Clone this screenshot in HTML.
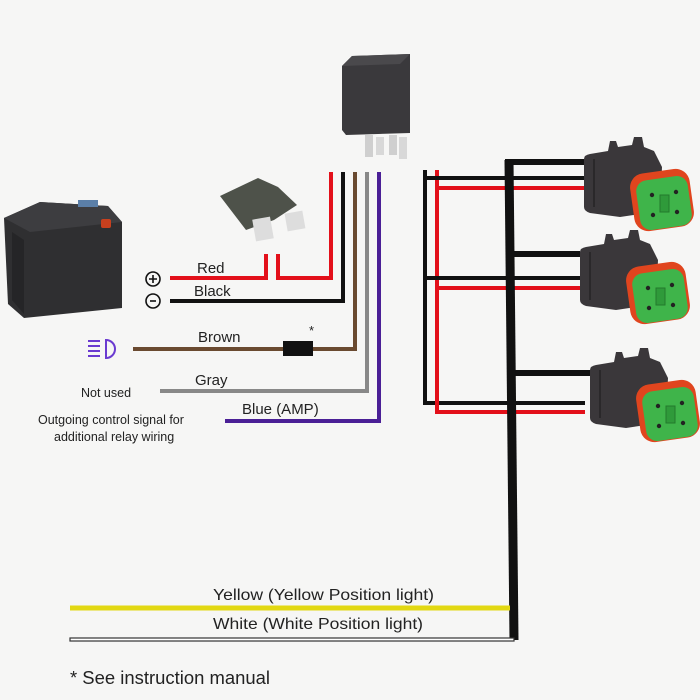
<!DOCTYPE html>
<html><head><meta charset="utf-8"><style>
html,body{margin:0;padding:0;background:#f6f6f5;}
svg{display:block}
text{font-family:"Liberation Sans",sans-serif;fill:#222;}
</style></head><body>
<svg width="700" height="700" viewBox="0 0 700 700" xmlns="http://www.w3.org/2000/svg">
<defs>
<g id="conn">
  <path d="M4 22 Q4 18 10 17 L28 14 L30 4 L36 4 L38 10 L52 8 L54 0 L62 0 L64 10 L74 14 L82 30 L80 74 L40 80 L10 76 Q4 74 4 70 Z" fill="#3a373a"/>
  <path d="M14 22 L14 70" stroke="#2a282a" stroke-width="2"/>
  <rect x="52" y="34" width="60" height="58" rx="14" fill="#e0451e" transform="rotate(-8 82 63)"/>
  <rect x="58" y="41" width="52" height="50" rx="11" fill="#3fb44a" transform="rotate(-8 84 66)"/>
  <circle cx="72" cy="58" r="2.2" fill="#222"/><circle cx="96" cy="55" r="2.2" fill="#222"/>
  <circle cx="73" cy="78" r="2.2" fill="#222"/><circle cx="97" cy="75" r="2.2" fill="#222"/>
  <rect x="80" y="58" width="9" height="17" fill="#2f9a3a" stroke="#237a2c" stroke-width="1"/>
</g>
</defs>

<!-- battery -->
<path d="M4 218 L40 202 L108 206 L122 222 L122 308 L24 318 L8 304 Z" fill="#2f2f31"/>
<path d="M4 218 L40 202 L108 206 L122 222 L30 232 Z" fill="#3d3d40"/>
<rect x="78" y="200" width="20" height="7" fill="#5b7fa8"/>
<rect x="101" y="219" width="10" height="9" rx="2" fill="#c8401e"/>
<path d="M12 232 L12 300 L24 314 L24 240 Z" fill="#252527"/>

<!-- relay -->
<path d="M342 66 L352 56 L410 54 L410 133 L346 135 L342 130 Z" fill="#3a393c"/>
<path d="M342 66 L352 56 L410 54 L400 64 Z" fill="#4a494c"/>
<rect x="365" y="135" width="8" height="22" fill="#cfcfcf"/>
<rect x="376" y="137" width="8" height="18" fill="#d8d8d8"/>
<rect x="389" y="135" width="8" height="20" fill="#cfcfcf"/>
<rect x="399" y="137" width="8" height="22" fill="#d8d8d8"/>

<!-- fuse -->
<path d="M220 196 L258 178 L278 187 L297 205 L274 220 L246 230 Z" fill="#4e524a"/>
<rect x="254" y="218" width="18" height="22" fill="#ddd" transform="rotate(-10 263 229)"/>
<rect x="286" y="212" width="18" height="18" fill="#ddd" transform="rotate(-10 295 221)"/>

<!-- wires left -->
<g fill="none" stroke-linejoin="miter" stroke-width="4">
<path d="M170 278 L266 278 L266 254" stroke="#e3101a"/>
<path d="M278 254 L278 278 L331 278 L331 172" stroke="#e3101a"/>
<path d="M170 301 L343 301 L343 172" stroke="#111"/>
<path d="M133 349 L355 349 L355 172" stroke="#6a4a30"/>
<path d="M160 391 L367 391 L367 172" stroke="#888"/>
<path d="M225 421 L379 421 L379 172" stroke="#4a1f96"/>
</g>
<rect x="283" y="341" width="30" height="15" fill="#111"/>
<text x="309" y="335" font-size="13">*</text>

<!-- icons -->
<circle cx="153" cy="279" r="7" fill="none" stroke="#111" stroke-width="1.6"/>
<path d="M149 279h8M153 275v8" stroke="#111" stroke-width="1.6"/>
<circle cx="153" cy="301" r="7" fill="none" stroke="#111" stroke-width="1.6"/>
<path d="M150 301h6" stroke="#111" stroke-width="1.6"/>
<g stroke="#6a3ad0" stroke-width="2" fill="none">
<path d="M106 340 A9 9 0 0 1 106 358 Z"/>
<path d="M88 341h12M88 346h12M88 351h12M88 356h12"/>
</g>

<!-- left labels -->
<text x="197" y="273" font-size="15">Red</text>
<text x="194" y="296" font-size="15">Black</text>
<text x="198" y="342" font-size="15">Brown</text>
<text x="195" y="385" font-size="15">Gray</text>
<text x="242" y="414" font-size="15">Blue (AMP)</text>
<text x="81" y="397" font-size="12.5">Not used</text>
<text x="38" y="424" font-size="12.5">Outgoing control signal for</text>
<text x="54" y="441" font-size="12.5">additional relay wiring</text>

<!-- right wiring -->
<g fill="none" stroke-width="4">
<path d="M425 170 L425 403 L585 403" stroke="#111"/>
<path d="M437 170 L437 412 L585 412" stroke="#e3101a"/>
<path d="M425 178 L585 178" stroke="#111"/>
<path d="M437 188 L585 188" stroke="#e3101a"/>
<path d="M425 278 L580 278" stroke="#111"/>
<path d="M437 288 L580 288" stroke="#e3101a"/>
<path d="M505 162 L585 162" stroke="#111" stroke-width="6"/>
<path d="M510 254 L580 254" stroke="#111" stroke-width="6"/>
<path d="M512 373 L590 373" stroke="#111" stroke-width="6"/>
<path d="M509 160 L514 640" stroke="#111" stroke-width="9"/>
</g>

<use href="#conn" x="580" y="137"/>
<use href="#conn" x="576" y="230"/>
<use href="#conn" x="586" y="348"/>

<!-- bottom -->
<path d="M70 608 L510 608" stroke="#e2d812" stroke-width="5"/>
<rect x="70" y="638" width="444" height="3" fill="#fff" stroke="#333" stroke-width="1.2"/>
<text x="213" y="600" font-size="16" textLength="221" lengthAdjust="spacingAndGlyphs">Yellow (Yellow Position light)</text>
<text x="213" y="629" font-size="16" textLength="210" lengthAdjust="spacingAndGlyphs">White (White Position light)</text>
<text x="70" y="684" font-size="18" textLength="200" lengthAdjust="spacingAndGlyphs">* See instruction manual</text>
</svg>
</body></html>
